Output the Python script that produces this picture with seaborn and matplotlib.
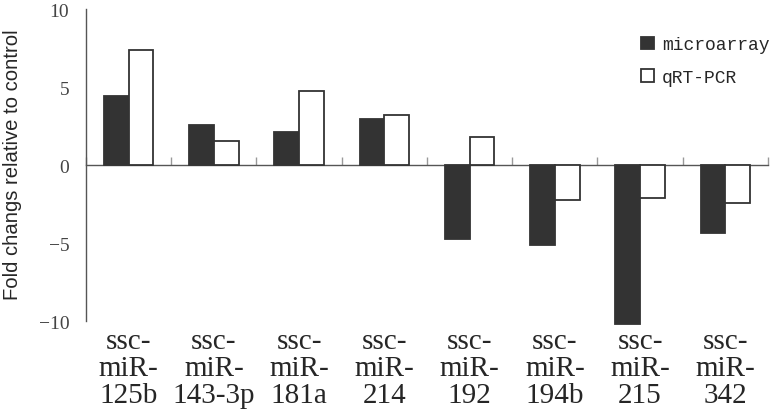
import matplotlib
matplotlib.use("Agg")
import matplotlib.pyplot as plt
import seaborn as sns
import pandas as pd

# values
mirnas = ["ssc-\nmiR-\n125b", "ssc-\nmiR-\n143-3p", "ssc-\nmiR-\n181a", "ssc-\nmiR-\n214",
          "ssc-\nmiR-\n192", "ssc-\nmiR-\n194b", "ssc-\nmiR-\n215", "ssc-\nmiR-\n342"]
microarray = [4.45, 2.55, 2.12, 2.93, -4.76, -5.11, -10.2, -4.38]
qrt_pcr = [7.37, 1.52, 4.76, 3.22, 1.81, -2.26, -2.13, -2.42]
methods = ["microarray", "qRT-PCR"]
yticks = [-10, -5, 0, 5, 10]

df = pd.DataFrame({
    "miRNA": mirnas * 2,
    "fold": microarray + qrt_pcr,
    "method": [methods[0]] * len(mirnas) + [methods[1]] * len(mirnas),
})

sns.set_style("white")
plt.rcParams["font.family"] = ["Liberation Serif", "DejaVu Serif"]

fig = plt.figure(figsize=(7.72, 4.10), dpi=100)
ax = fig.add_axes([0.1114, 0.2032, 0.8834, 0.7724])

edge = "#333333"
sns.barplot(data=df, x="miRNA", y="fold", hue="method", order=mirnas,
            palette={"microarray": "#333333", "qRT-PCR": "white"},
            edgecolor=edge, linewidth=1.3, width=0.58, ax=ax, legend=True)

ax.set_ylim(-10.3, 10)
ax.set_xlim(-0.5, len(mirnas) - 0.5)
ax.set_yticks(yticks)
ax.tick_params(axis="y", direction="in", length=6, width=1, color="#666666",
               labelsize=14, labelcolor="#444444", pad=12)
ax.tick_params(axis="x", length=0, labelsize=21, pad=2)
for lbl in ax.get_xticklabels():
    lbl.set_linespacing(1.05)

for side in ["top", "right", "bottom"]:
    ax.spines[side].set_visible(False)
ax.spines["left"].set_bounds(-10, 10)
ax.spines["left"].set_color("#555555")
ax.spines["left"].set_linewidth(1)

# zero line with category boundary ticks
zero = ax.secondary_xaxis(0, transform=ax.transData)
zero.set_xticks([i - 0.5 for i in range(len(mirnas) + 1)])
zero.tick_params(direction="in", length=6, width=1, color="#999999", labelbottom=False)
zero.spines["bottom"].set_color("#555555")
zero.spines["bottom"].set_linewidth(1)

ax.set_xlabel("")
ax.set_ylabel("Fold changs relative to control", fontsize=14.6,
              family=["Liberation Sans", "DejaVu Sans"])
ax.yaxis.set_label_coords(-0.094, 0.51)

ax.legend(loc="upper left", bbox_to_anchor=(0.79, 0.965), frameon=False,
          prop={"family": ["Liberation Mono", "DejaVu Sans Mono"], "size": 13},
          handlelength=0.7, handleheight=0.7, handletextpad=0.45, labelspacing=0.85)

fig.savefig("out.png", dpi=100)
